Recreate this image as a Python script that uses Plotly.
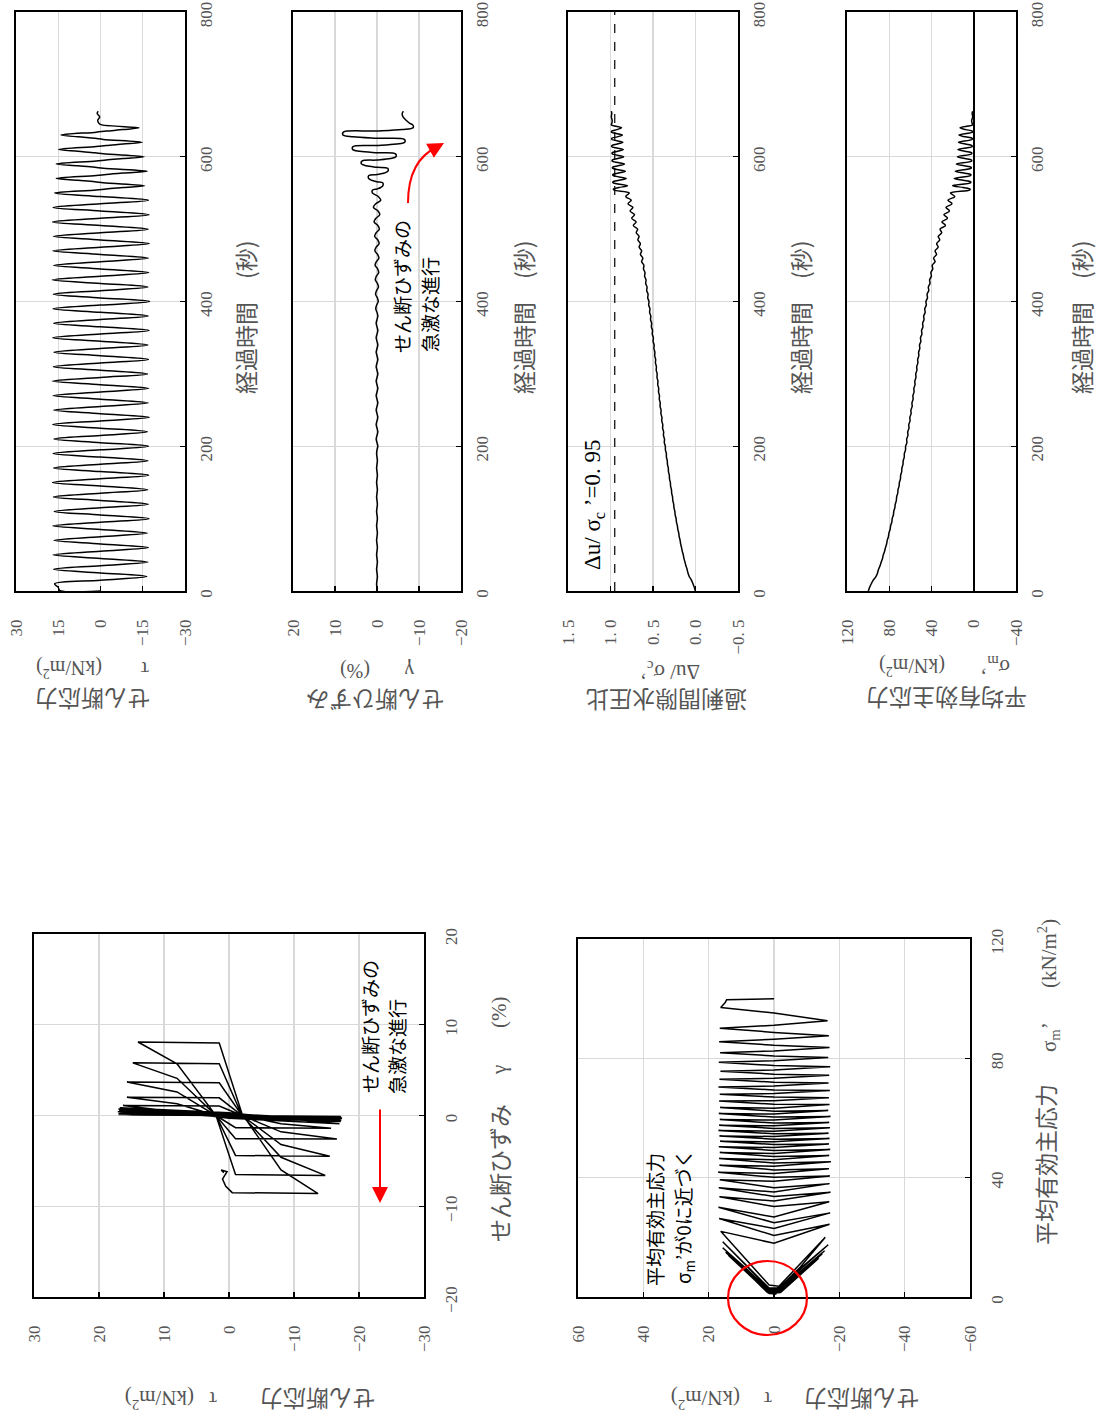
import plotly.graph_objects as go

# ---------------- data ----------------
T = [0, 1, 5, 10, 15, 20, 25, 30, 35, 40,
     45, 50, 55, 60, 65, 70, 75, 80, 85, 90,
     95, 100, 105, 110, 115, 120, 125, 130, 135, 140,
     145, 150, 155, 160, 165, 170, 175, 180, 185, 190,
     195, 200, 205, 210, 215, 220, 225, 230, 235, 240,
     245, 250, 255, 260, 265, 270, 275, 280, 285, 290,
     295, 300, 305, 310, 315, 320, 325, 330, 335, 340,
     345, 350, 355, 360, 365, 370, 375, 380, 385, 390,
     395, 400, 405, 410, 415, 420, 425, 430, 435, 440,
     445, 450, 455, 460, 465, 470, 475, 480, 485, 490,
     495, 500, 505, 510, 515, 520, 525, 530, 535, 540,
     545,
     550, 554, 555.5, 557.5, 560, 564, 565.5, 567.5, 570, 574,
     575.5, 577.5, 580, 584, 585.5, 587.5, 590, 594, 595.5, 597.5,
     600, 604, 605.5, 607.5, 610, 614, 615.5, 617.5, 620, 624,
     625.5, 627.5, 630, 634, 635.5, 637.5, 640, 644, 646, 650,
     655, 660, 663]

TAU = [0, 14.5, 15.0, 16.3, 0, -16.4, 0, 16.6, 0, -16.8,
       0, 16.8, 0, -17.0, 0, 16.5, 0, -16.6, 0, 16.9,
       0, -17.2, 0, 16.4, 0, -16.9, 0, 16.7, 0, -16.7,
       0, 17.0, 0, -17.1, 0, 16.6, 0, -16.8, 0, 16.8,
       0, -17.0, 0, 16.5, 0, -16.6, 0, 16.9, 0, -17.3,
       0, 16.6, 0, -16.9, 0, 16.8, 0, -17.1, 0, 17.0,
       0, -16.7, 0, 16.7, 0, -17.0, 0, 16.5, 0, -16.8,
       0, 16.9, 0, -17.2, 0, 16.6, 0, -16.9, 0, 16.8,
       0, -17.4, 0, 16.7, 0, -16.8, 0, 17.1, 0, -17.1,
       0, 16.6, 0, -17.0, 0, 16.9, 0, -17.3, 0, 16.7,
       0, -16.9, 0, 17.0, 0, -17.2, 0, 16.8, 0, -17.0,
       0,
       16.3, 1.5, -2.0, -8.0, -15.7, -1.0, 2.0, 8.0, 15.7, 1.5,
       -2.0, -8.0, -16.6, -1.0, 2.0, 8.0, 15.7, 1.5, -2.0, -8.0,
       -15.5, -1.0, 2.0, 8.0, 14.8, 1.5, -2.0, -8.0, -14.8, -1.0,
       2.0, 8.0, 14.0, 1.5, -2.0, -8.0, -13.7, -0.5, 0.5, 1.0,
       0.3, 1.2, 0.8]

GAMMA = [0, 0, 0.05, 0.1, 0, -0.1, 0, 0.1, 0, -0.1,
         0, 0.1, 0, -0.1, 0, 0.1, 0, -0.1, 0, 0.1,
         0, -0.1, 0, 0.1, 0, -0.1, 0, 0.1, 0, -0.1,
         0, 0.1, 0, -0.1, 0, 0.1, 0, -0.1, 0, 0.1,
         0, -0.2, 0, 0.2, 0, -0.2, 0, 0.2, 0, -0.2,
         0, 0.2, 0, -0.2, 0, 0.2, 0, -0.2, 0, 0.2,
         0, -0.2, 0, 0.2, 0, -0.2, 0, 0.2, 0, -0.2,
         0, 0.2, 0, -0.2, 0, 0.2, 0, -0.2, 0, 0.3,
         0.1, -0.3, -0.1, 0.35, 0.1, -0.35, -0.1, 0.4, 0.15, -0.4,
         -0.15, 0.45, 0.15, -0.45, -0.15, 0.5, 0.2, -0.5, -0.2, 0.55,
         0.2, -0.55, -0.2, 0.7, 0.25, -0.65, -0.25, 0.85, 0.3, -0.9,
         -0.3,
         1.1, 1.05, 0.0, -0.9, -1.4, -1.35, 0.0, 1.3, 2.0, 1.95,
         0.0, -1.8, -2.6, -2.55, 0.0, 2.6, 3.7, 3.6, 0.0, -3.2,
         -4.5, -4.4, 0.0, 4.1, 5.8, 5.7, 0.0, -4.6, -6.6, -6.5,
         0.0, 5.7, 8.1, 8.0, 0.2, -6.0, -8.6, -8.5, -7.8, -7.0,
         -6.2, -6.0, -6.3]

SIGMA_M = [100.0, 99.6, 98.6, 97.0, 95.2, 92.6, 91.1, 90.1, 88.7, 87.6,
           86.4, 85.6, 84.4, 83.6, 82.5, 81.9, 80.8, 80.3, 79.2, 78.7,
           77.6, 77.2, 76.1, 75.7, 74.7, 74.3, 73.3, 73.0, 72.0, 71.7,
           70.7, 70.4, 69.4, 69.2, 68.2, 68.0, 67.0, 66.8, 65.8, 65.7,
           64.6, 64.5, 63.3, 63.5, 62.3, 62.5, 61.3, 61.5, 60.3, 60.5,
           59.3, 59.5, 58.3, 58.5, 57.4, 57.6, 56.5, 56.7, 55.6, 55.8,
           54.7, 54.9, 53.8, 54.0, 52.9, 53.1, 52.0, 52.2, 51.1, 51.3,
           50.1, 50.4, 49.1, 49.4, 48.1, 48.4, 47.1, 47.4, 46.0, 46.4,
           44.9, 45.3, 43.8, 44.2, 42.6, 43.0, 41.4, 41.8, 40.1, 40.6,
           38.8, 39.3, 36.6, 38.0, 35.2, 36.6, 33.7, 35.1, 32.2, 33.6,
           30.3, 31.9, 26.8, 30.1, 24.9, 28.2, 23.0, 26.3, 20.6, 24.4,
           18.0,
           22.0, 4.0, 3.5, 10.0, 20.0, 3.0, 3.0, 10.0, 18.5, 3.0,
           2.8, 9.5, 17.5, 2.5, 2.5, 9.0, 16.5, 2.0, 2.2, 8.5,
           15.5, 2.0, 2.0, 8.5, 15.0, 1.5, 1.8, 8.0, 14.5, 1.5,
           1.5, 8.0, 14.0, 1.2, 1.5, 7.5, 13.0, 1.0, 1.5, 2.0,
           1.0, 1.5, 1.0]

DU_RATIO = [0.000, 0.004, 0.014, 0.030, 0.048, 0.074, 0.089, 0.099, 0.113, 0.124,
            0.136, 0.144, 0.156, 0.164, 0.175, 0.181, 0.192, 0.197, 0.208, 0.213,
            0.224, 0.228, 0.239, 0.243, 0.253, 0.257, 0.267, 0.270, 0.280, 0.283,
            0.293, 0.296, 0.306, 0.308, 0.318, 0.320, 0.330, 0.332, 0.342, 0.343,
            0.354, 0.355, 0.367, 0.365, 0.377, 0.375, 0.387, 0.385, 0.397, 0.395,
            0.407, 0.405, 0.417, 0.415, 0.426, 0.424, 0.435, 0.433, 0.444, 0.442,
            0.453, 0.451, 0.462, 0.460, 0.471, 0.469, 0.480, 0.478, 0.489, 0.487,
            0.499, 0.496, 0.509, 0.506, 0.519, 0.516, 0.529, 0.526, 0.540, 0.536,
            0.551, 0.547, 0.562, 0.558, 0.574, 0.570, 0.586, 0.582, 0.599, 0.594,
            0.612, 0.607, 0.634, 0.620, 0.648, 0.634, 0.663, 0.649, 0.678, 0.664,
            0.697, 0.681, 0.732, 0.699, 0.751, 0.718, 0.770, 0.737, 0.794, 0.756,
            0.820,
            0.780, 0.960, 0.965, 0.900, 0.800, 0.970, 0.970, 0.900, 0.815, 0.970,
            0.972, 0.905, 0.825, 0.975, 0.975, 0.910, 0.835, 0.980, 0.978, 0.915,
            0.845, 0.980, 0.980, 0.915, 0.850, 0.985, 0.982, 0.920, 0.855, 0.985,
            0.985, 0.920, 0.860, 0.988, 0.985, 0.925, 0.870, 0.990, 0.985, 0.980,
            0.990, 0.985, 0.990]

DU_LIMIT = 0.95

TIME_TICKS = [0, 200, 400, 600, 800]
TAU_TS_TICKS = [30, 15, 0, -15, -30]
TAU_TS_TEXT = ["30", "15", "0", "−15", "−30"]
GAMMA_TS_TICKS = [20, 10, 0, -10, -20]
GAMMA_TS_TEXT = ["20", "10", "0", "−10", "−20"]
DU_TICKS = [1.5, 1.0, 0.5, 0.0, -0.5]
DU_TEXT = ["1. 5", "1. 0", "0. 5", "0. 0", "−0. 5"]
SIG_TS_TICKS = [120, 80, 40, 0, -40]
SIG_TS_TEXT = ["120", "80", "40", "0", "−40"]
HY_TAU_TICKS = [30, 20, 10, 0, -10, -20, -30]
HY_TAU_TEXT = ["30", "20", "10", "0", "−10", "−20", "−30"]
HY_GAM_TICKS = [20, 10, 0, -10, -20]
HY_GAM_TEXT = ["20", "10", "0", "−10", "−20"]
SP_TAU_TICKS = [60, 40, 20, 0, -20, -40, -60]
SP_TAU_TEXT = ["60", "40", "20", "0", "−20", "−40", "−60"]
SP_SIG_TICKS = [0, 40, 80, 120]

n = min(len(T), len(TAU), len(GAMMA), len(SIGMA_M), len(DU_RATIO))
T, TAU, GAMMA, SIGMA_M, DU_RATIO = T[:n], TAU[:n], GAMMA[:n], SIGMA_M[:n], DU_RATIO[:n]

# ---------------- layout helpers ----------------
W, H = 1097, 1416


def fx(p):
    return p / W


def fy(p):
    return 1 - p / H


SERIF = "Liberation Serif, 'Noto Sans CJK JP', serif"
JP = "'Noto Sans CJK JP', 'Liberation Serif', sans-serif"
LABEL_COL = "#555555"
GRID = "#d9d9d9"

fig = go.Figure()


def x_axis(x0, x1, rng, vals, text, anchor, standoff=20, zero=False):
    return dict(domain=[fx(x0), fx(x1)], range=rng, tickvals=vals, ticktext=text,
                tickangle=-90, showline=True, mirror=True, linecolor="black",
                linewidth=1.6, showgrid=True, gridcolor=GRID, gridwidth=1.3,
                zeroline=zero, zerolinecolor="black", zerolinewidth=1.6,
                ticks="inside", ticklen=5, tickcolor="black", tickwidth=1.2,
                ticklabelstandoff=standoff, ticklabeloverflow="allow",
                anchor=anchor, fixedrange=True, automargin=False,
                tickfont=dict(family=SERIF, size=17, color=LABEL_COL))


def y_axis(y0, y1, rng, vals, text, anchor, standoff=5):
    return dict(domain=[fy(y1), fy(y0)], range=rng, tickvals=vals, ticktext=text,
                tickangle=-90, side="right", showline=True, mirror=True,
                linecolor="black", linewidth=1.6, showgrid=True, gridcolor=GRID,
                gridwidth=1.3, zeroline=False, ticks="inside", ticklen=5,
                tickcolor="black", tickwidth=1.2, ticklabelstandoff=standoff,
                ticklabelshift=5, ticklabeloverflow="allow",
                anchor=anchor, fixedrange=True, automargin=False,
                tickfont=dict(family=SERIF, size=17, color=LABEL_COL))


time_text = [str(v) for v in TIME_TICKS]
TS_Y0, TS_Y1 = 12, 591

layout_axes = {
    "xaxis": x_axis(16, 185, [30, -30], TAU_TS_TICKS, TAU_TS_TEXT, "y"),
    "yaxis": y_axis(TS_Y0, TS_Y1, [0, 800], TIME_TICKS, time_text, "x"),
    "xaxis2": x_axis(293, 461, [20, -20], GAMMA_TS_TICKS, GAMMA_TS_TEXT, "y2"),
    "yaxis2": y_axis(TS_Y0, TS_Y1, [0, 800], TIME_TICKS, time_text, "x2"),
    "xaxis3": x_axis(568, 738, [1.5, -0.5], DU_TICKS, DU_TEXT, "y3"),
    "yaxis3": y_axis(TS_Y0, TS_Y1, [0, 800], TIME_TICKS, time_text, "x3"),
    "xaxis4": x_axis(847, 1016, [120, -40], SIG_TS_TICKS, SIG_TS_TEXT, "y4", zero=True),
    "yaxis4": y_axis(TS_Y0, TS_Y1, [0, 800], TIME_TICKS, time_text, "x4"),
    "xaxis5": x_axis(34, 424, [30, -30], HY_TAU_TICKS, HY_TAU_TEXT, "y5"),
    "yaxis5": y_axis(934, 1297, [-20, 20], HY_GAM_TICKS, HY_GAM_TEXT, "x5", standoff=11),
    "xaxis6": x_axis(578, 970, [60, -60], SP_TAU_TICKS, SP_TAU_TEXT, "y6"),
    "yaxis6": y_axis(939, 1297, [0, 120], SP_SIG_TICKS, [str(v) for v in SP_SIG_TICKS], "x6", standoff=11),
}

line = dict(color="black", width=1.5)
sline = dict(color="black", width=1.5, shape="spline", smoothing=1.0)
fig.add_trace(go.Scatter(x=TAU, y=T, mode="lines", line=sline, xaxis="x", yaxis="y", hoverinfo="skip"))
fig.add_trace(go.Scatter(x=GAMMA, y=T, mode="lines", line=sline, xaxis="x2", yaxis="y2", hoverinfo="skip"))
fig.add_trace(go.Scatter(x=[DU_LIMIT, DU_LIMIT], y=[0, 800], mode="lines",
                         line=dict(color="black", width=1.2, dash="dash"),
                         xaxis="x3", yaxis="y3", hoverinfo="skip"))
fig.add_trace(go.Scatter(x=DU_RATIO, y=T, mode="lines", line=sline, xaxis="x3", yaxis="y3", hoverinfo="skip"))
fig.add_trace(go.Scatter(x=SIGMA_M, y=T, mode="lines", line=sline, xaxis="x4", yaxis="y4", hoverinfo="skip"))
fig.add_trace(go.Scatter(x=TAU, y=GAMMA, mode="lines", line=line, xaxis="x5", yaxis="y5", hoverinfo="skip"))
fig.add_trace(go.Scatter(x=TAU, y=SIGMA_M, mode="lines", line=line, xaxis="x6", yaxis="y6", hoverinfo="skip"))


def txt(text, x, y, angle, size, color=LABEL_COL, family=JP):
    fig.add_annotation(text=text, x=fx(x), y=fy(y), xref="paper", yref="paper",
                       showarrow=False, textangle=angle, xanchor="center",
                       yanchor="middle", borderpad=0,
                       font=dict(family=family, size=size, color=color))


# time-axis titles (read bottom to top)
for cx in (245, 523, 800, 1081):
    txt("経過時間　(秒)", cx, 317, -90, 23)

# value-axis titles of the time series (upside down)
txt("せん断応力", 93, 700, 180, 23)
txt("τ", 145, 669, 180, 21, family=SERIF)
txt("(kN/m<sup>2</sup>)", 69, 669, 180, 20, family=SERIF)

txt("せん断ひずみ", 375, 701, 180, 23)
txt("γ", 410, 671, 180, 21, family=SERIF)
txt("(%)", 355, 671, 180, 20, family=SERIF)

txt("過剰間隙水圧比", 667, 701, 180, 23)
txt("Δu/ σ<sub>c</sub>’", 670, 671, 180, 21, family=SERIF)

txt("平均有効主応力", 947, 699, 180, 23)
txt("σ<sub>m</sub>’", 995, 666, 180, 21, family=SERIF)
txt("(kN/m<sup>2</sup>)", 912, 667, 180, 20, family=SERIF)

# hysteresis titles
txt("せん断ひずみ", 499, 1173, -90, 23)
txt("γ", 499, 1070, -90, 21, family=SERIF)
txt("(%)", 499, 1013, -90, 21, family=SERIF)
txt("せん断応力", 318, 1400, 180, 23)
txt("τ", 213, 1399, 180, 21, family=SERIF)
txt("(kN/m<sup>2</sup>)", 160, 1400, 180, 21, family=SERIF)

# stress-path titles
txt("平均有効主応力", 1045, 1165, -90, 23)
txt("σ<sub>m</sub>’", 1050, 1037, -90, 21, family=SERIF)
txt("(kN/m<sup>2</sup>)", 1047, 954, -90, 21, family=SERIF)
txt("せん断応力", 862, 1400, 180, 23)
txt("τ", 768, 1399, 180, 21, family=SERIF)
txt("(kN/m<sup>2</sup>)", 705, 1400, 180, 21, family=SERIF)

# in-plot notes
txt("せん断ひずみの", 402, 287, -90, 19, color="black")
txt("急激な進行", 429, 305, -90, 19, color="black")
txt("Δu/ σ<sub>c</sub> ’=0. 95", 594, 505, -90, 23, color="black", family=SERIF)
txt("せん断ひずみの", 369, 1027, -90, 19, color="black")
txt("急激な進行", 396, 1047, -90, 19, color="black")
txt("平均有効主応力", 654, 1220, -90, 19, color="black")
txt("σ<sub>m</sub>’が0に近づく", 684, 1217, -90, 19, color="black")

# red arrows / circle
fig.add_annotation(x=fx(380), y=fy(1203), xref="paper", yref="paper", ax=0, ay=-95,
                   axref="pixel", ayref="pixel", text="", showarrow=True,
                   arrowhead=2, arrowsize=1.6, arrowwidth=2, arrowcolor="red")
path = (f"M {fx(408)},{fy(203)} C {fx(408)},{fy(172)} {fx(420)},{fy(155)} "
        f"{fx(437)},{fy(147)}")
fig.add_shape(type="path", path=path, xref="paper", yref="paper",
              line=dict(color="red", width=2))
fig.add_annotation(x=fx(444), y=fy(143), xref="paper", yref="paper", ax=-9, ay=5,
                   axref="pixel", ayref="pixel", text="", showarrow=True,
                   arrowhead=2, arrowsize=1.6, arrowwidth=2, arrowcolor="red")
fig.add_shape(type="circle", x0=fx(728), x1=fx(807), y0=fy(1335), y1=fy(1261),
              xref="paper", yref="paper", line=dict(color="red", width=2.2))

fig.update_layout(width=W, height=H, margin=dict(l=0, r=0, t=0, b=0, pad=0),
                  paper_bgcolor="white", plot_bgcolor="white", showlegend=False,
                  font=dict(family=SERIF), **layout_axes)

fig.write_html("out.html", config={"displayModeBar": False, "staticPlot": True},
               post_script="document.body.style.margin='0';")
